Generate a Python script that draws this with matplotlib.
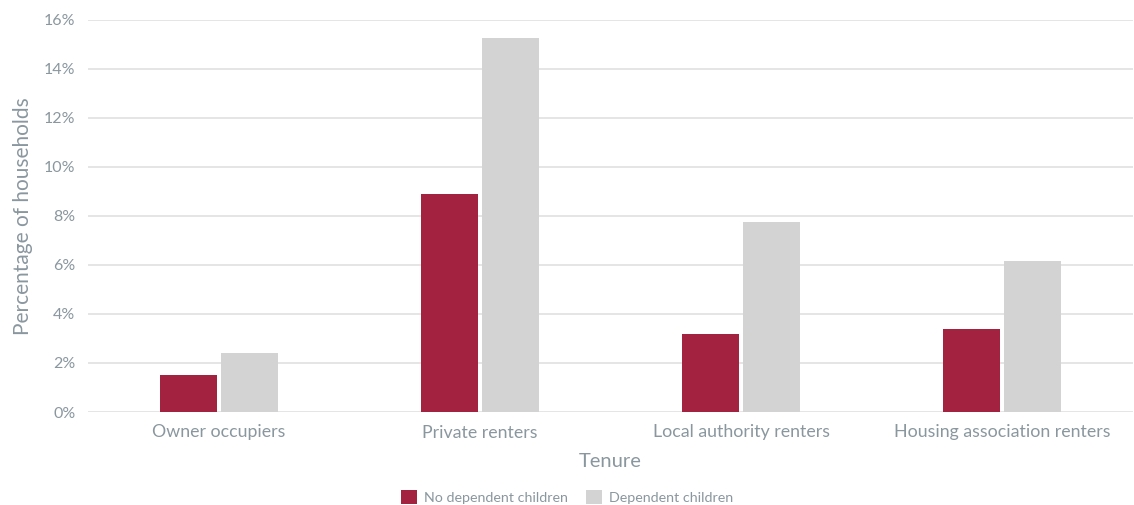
import numpy as np
import matplotlib.pyplot as plt
from matplotlib.ticker import FuncFormatter

categories = ["Owner occupiers", "Private renters", "Local authority renters",
              "Housing association renters"]
no_dependent = [1.5, 8.9, 3.2, 3.4]
dependent = [2.4, 15.25, 7.75, 6.15]
series_labels = ["No dependent children", "Dependent children"]

RED = "#a32240"
GREY = "#d3d3d3"
TEXT = "#8a979f"

plt.rcParams["font.family"] = ["Lato", "DejaVu Sans"]

fig = plt.figure(figsize=(11.34, 5.05), dpi=100)
ax = fig.add_axes([88 / 1134, 93 / 505, 1045 / 1134, 392.5 / 505])

x = np.arange(len(categories))
w = 0.218
ax.bar(x - 0.117, no_dependent, width=w, color=RED, label=series_labels[0], zorder=3)
ax.bar(x + 0.117, dependent, width=w, color=GREY, label=series_labels[1], zorder=3)

ax.set_xlim(-0.5, 3.5)
ax.set_ylim(0, 16)
ax.set_yticks(range(0, 17, 2))
ax.yaxis.set_major_formatter(FuncFormatter(lambda v, p: f"{v:.0f}%"))
ax.set_xticks(x)
ax.set_xticklabels(categories)

ax.grid(axis="y", color="#e3e3e3", linewidth=1.3, zorder=0)
for s in ax.spines.values():
    s.set_visible(False)
ax.tick_params(axis="both", length=0, colors=TEXT)
ax.tick_params(axis="y", labelsize=11.5, pad=9)
ax.tick_params(axis="x", labelsize=12.8, pad=9)

ax.set_xlabel("Tenure", fontsize=14.5, color=TEXT, labelpad=9)
ax.set_ylabel("Percentage of households", fontsize=15, color=TEXT, labelpad=8)

leg = fig.legend(loc="center", bbox_to_anchor=(567 / 1134, 1 - 497 / 505), ncol=2,
                 frameon=False, fontsize=10.3, handlelength=1.1, handleheight=1.1,
                 handletextpad=0.5, columnspacing=1.3)
for t in leg.get_texts():
    t.set_color(TEXT)

fig.savefig("out.png", dpi=100)
